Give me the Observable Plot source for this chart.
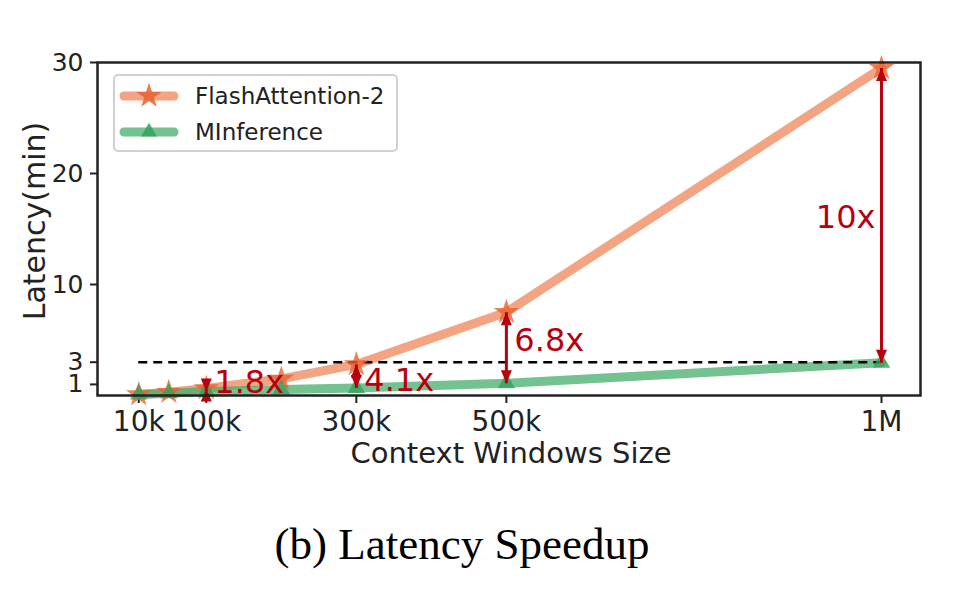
<!DOCTYPE html>
<html>
<head>
<meta charset="utf-8">
<script src="https://cdn.jsdelivr.net/npm/d3@7"></script>
<script src="https://cdn.jsdelivr.net/npm/@observablehq/plot@0.6"></script>
<style>
  body { margin: 0; background: #fff; }
  #wrap { position: relative; width: 964px; height: 592px; background: #fff; }
  #legend { position: absolute; left: 113px; top: 74px; width: 281px; height: 74px;
    border: 2px solid #d0d0d0; border-radius: 5px; background: rgba(255,255,255,0.85);
    font-family: "DejaVu Sans", sans-serif; font-size: 23px; color: #222; }
  .row { position: absolute; left: 0; height: 30px; display: flex; align-items: center; }
  .row svg { margin-left: 4px; }
  .row span { margin-left: 16px; }
  #title { position: absolute; left: -40px; width: 1004px; top: 516px; text-align: center;
    font-family: "Liberation Serif", "Times New Roman", serif; font-size: 45px; line-height: 56px; color: #000; }
</style>
</head>
<body>
<div id="wrap">
  <div id="chart"></div>
  <div id="legend"></div>
  <div id="title">(b) Latency Speedup</div>
</div>
<script>
// ---- data ----
const contextSizes = [10000, 50000, 100000, 200000, 300000, 500000, 1000000];
const flashLatency = [0.1, 0.3, 0.63, 1.5, 2.8, 7.5, 29.5];
const minferenceLatency = [0.1, 0.2, 0.35, 0.55, 0.68, 1.1, 2.95];
const seriesNames = ["FlashAttention-2", "MInference"];
const xTicks = [10000, 100000, 300000, 500000, 1000000];
const xTickLabels = ["10k", "100k", "300k", "500k", "1M"];
const yTicks = [1, 3, 10, 20, 30];
const refLatency = 3;
const speedupSizes = [100000, 300000, 500000, 1000000];
const speedupLabels = ["1.8x", "4.1x", "6.8x", "10x"];

// ---- styles ----
const orange = "#ef8558", orangeMark = "#e8622f";
const green = "#47ad6c", greenMark = "#35a35a";
const red = "#b8000f";

const flash = contextSizes.map((x, i) => ({x, y: flashLatency[i], s: seriesNames[0]}));
const minf = contextSizes.map((x, i) => ({x, y: minferenceLatency[i], s: seriesNames[1]}));
const speed = speedupSizes.map((x, i) => {
  const j = contextSizes.indexOf(x);
  return {x, top: flashLatency[j], bottom: minferenceLatency[j], label: speedupLabels[i], mid: (flashLatency[j] + minferenceLatency[j]) / 2};
});

// arrowhead symbols with tip at origin
const headUp = {draw(ctx) { ctx.moveTo(0, 0); ctx.lineTo(5.5, 13); ctx.lineTo(-5.5, 13); ctx.closePath(); }};
const headDown = {draw(ctx) { ctx.moveTo(0, 0); ctx.lineTo(5.5, -13); ctx.lineTo(-5.5, -13); ctx.closePath(); }};

const labelDy = [-7, 5, -7, 2];

const chart = Plot.plot({
  width: 964,
  height: 480,
  marginLeft: 97,
  marginRight: 44,
  marginTop: 62,
  marginBottom: 85,
  style: {fontFamily: "DejaVu Sans, sans-serif", color: "#222", background: "#fff", overflow: "visible"},
  x: {domain: [-45000, 1052000]},
  y: {domain: [0, 30]},
  marks: [
    Plot.axisX({ticks: xTicks, tickFormat: d => xTickLabels[xTicks.indexOf(d)], tickSize: 8, tickPadding: 8, fontSize: 28, strokeWidth: 2, label: null}),
    Plot.axisY({ticks: yTicks, tickSize: 7, tickPadding: 7, fontSize: 25, strokeWidth: 2, label: null}),
    Plot.text(["Latency(min)"], {frameAnchor: "left", textAnchor: "middle", rotate: -90, dx: -62, dy: -8, fontSize: 30, fill: "#222"}),
    Plot.text(["Context Windows Size"], {frameAnchor: "bottom", lineAnchor: "middle", dy: 58, dx: 2, fontSize: 29, fill: "#222"}),
    Plot.line(flash, {x: "x", y: "y", stroke: orange, strokeWidth: 9, strokeOpacity: 0.75}),
    Plot.line(minf, {x: "x", y: "y", stroke: green, strokeWidth: 9, strokeOpacity: 0.75}),
    Plot.ruleY([refLatency], {x1: contextSizes[0], x2: contextSizes[contextSizes.length - 1], stroke: "#000", strokeWidth: 2.5, strokeDasharray: "9,6"}),
    Plot.dot(flash, {x: "x", y: "y", symbol: "star", r: 8, fill: orangeMark, fillOpacity: 0.8}),
    Plot.dot(minf, {x: "x", y: "y", symbol: "triangle", r: 6.5, fill: greenMark, fillOpacity: 0.8}),
    Plot.link(speed, {x1: "x", x2: "x", y1: "top", y2: "bottom", stroke: red, strokeWidth: 3}),
    Plot.dot(speed, {x: "x", y: "top", symbol: headUp, r: 5, fill: red, stroke: "none"}),
    Plot.dot(speed, {x: "x", y: "bottom", symbol: headDown, r: 5, fill: red, stroke: "none"}),
    ...speed.map((d, i) => Plot.text([d], {x: "x", y: "mid", text: "label", fill: red, fontSize: 32,
      textAnchor: i === speed.length - 1 ? "end" : "start", dx: i === speed.length - 1 ? -6 : 8, dy: labelDy[i]})),
    Plot.frame({stroke: "#222", strokeWidth: 2.5})
  ]
});
document.getElementById("chart").appendChild(chart);

// legend (HTML)
const legend = document.getElementById("legend");
const entries = [
  {name: seriesNames[0], color: orange, mark: orangeMark, sym: d3.symbolStar, size: 200},
  {name: seriesNames[1], color: green, mark: greenMark, sym: d3.symbolTriangle, size: 110}
];
entries.forEach((e, i) => {
  const row = document.createElement("div");
  row.className = "row";
  row.style.top = (i === 0 ? 5 : 41) + "px";
  const path = d3.symbol(e.sym, e.size)();
  row.innerHTML = `<svg width="60" height="30"><line x1="5" x2="55" y1="15" y2="15" stroke="${e.color}" stroke-width="9" stroke-linecap="round" stroke-opacity="0.75"/><path d="${path}" transform="translate(30,15)" fill="${e.mark}" fill-opacity="0.85"/></svg><span>${e.name}</span>`;
  legend.appendChild(row);
});
</script>
</body>
</html>
